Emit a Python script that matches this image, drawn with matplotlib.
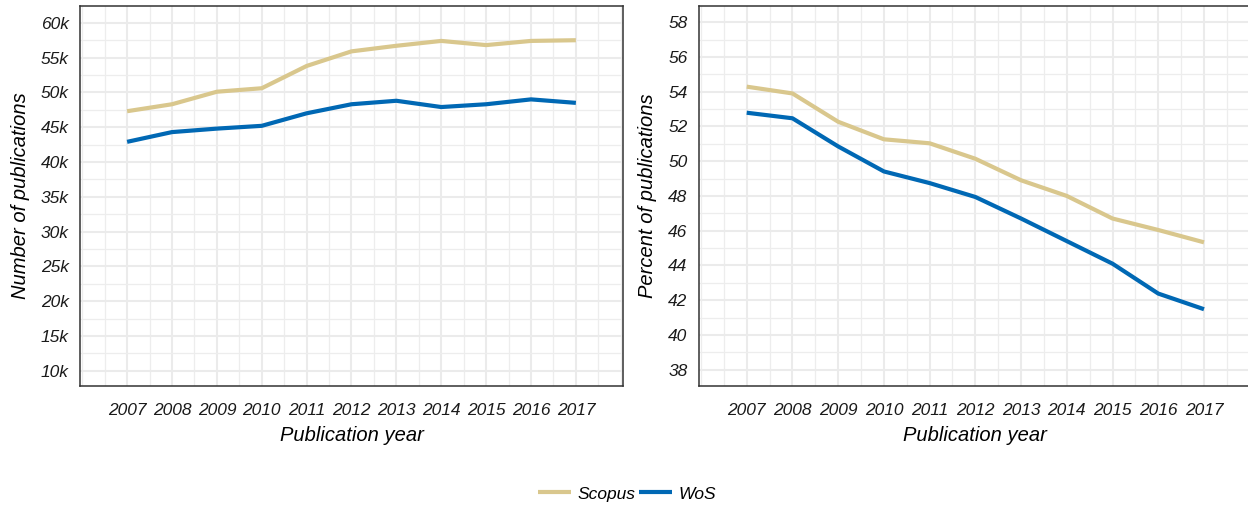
import numpy as np
import matplotlib.pyplot as plt
from matplotlib.ticker import MultipleLocator, FuncFormatter

plt.rcParams['font.family'] = ['Liberation Sans', 'DejaVu Sans']

years = [2007, 2008, 2009, 2010, 2011, 2012, 2013, 2014, 2015, 2016, 2017]
scopus_n = [47300, 48300, 50100, 50600, 53800, 55900, 56700, 57400, 56800, 57400, 57500]
wos_n = [42900, 44300, 44800, 45200, 47000, 48300, 48800, 47900, 48300, 49000, 48500]
scopus_pct = [54.29, 53.9, 52.27, 51.26, 51.03, 50.14, 48.9, 48.0, 46.7, 46.04, 45.33]
wos_pct = [52.79, 52.47, 50.85, 49.41, 48.74, 47.94, 46.7, 45.4, 44.1, 42.38, 41.48]

series = ['Scopus', 'WoS']
colors = {'Scopus': '#D9C78D', 'WoS': '#0068B4'}

W, H = 1248, 505
fig = plt.figure(figsize=(W / 100, H / 100), dpi=100)

ax1 = fig.add_axes([80 / W, 1 - 386 / H, 543 / W, 380.3 / H])
ax2 = fig.add_axes([698.7 / W, 1 - 386 / H, 553.3 / W, 380.3 / H])

ax1.plot(years, scopus_n, color=colors['Scopus'], lw=3.0, label='Scopus', solid_capstyle='butt')
ax1.plot(years, wos_n, color=colors['WoS'], lw=3.0, label='WoS', solid_capstyle='butt')
ax2.plot(years, scopus_pct, color=colors['Scopus'], lw=3.0, solid_capstyle='butt')
ax2.plot(years, wos_pct, color=colors['WoS'], lw=3.0, solid_capstyle='butt')

ax1.set_ylim(7820, 62460)
ax1.yaxis.set_major_locator(MultipleLocator(5000))
ax1.yaxis.set_minor_locator(MultipleLocator(2500))
ax1.yaxis.set_major_formatter(FuncFormatter(lambda v, p: '%dk' % round(v / 1000)))
ax1.set_ylabel('Number of publications', fontsize=14.5, style='italic', labelpad=8)

ax2.set_ylim(37.06, 58.95)
ax2.yaxis.set_major_locator(MultipleLocator(2))
ax2.yaxis.set_minor_locator(MultipleLocator(1))
ax2.set_ylabel('Percent of publications', fontsize=14.5, style='italic', labelpad=8)

for ax in (ax1, ax2):
    ax.set_xlim(2005.95, 2018.05)
    ax.set_xticks(years)
    ax.xaxis.set_minor_locator(MultipleLocator(0.5))
    ax.set_xlabel('Publication year', fontsize=14.5, style='italic', labelpad=6)
    ax.tick_params(which='both', length=0)
    ax.tick_params(axis='y', pad=8)
    ax.tick_params(axis='x', pad=12)
    for lab in ax.get_xticklabels() + ax.get_yticklabels():
        lab.set_fontsize(12.5)
        lab.set_fontstyle('italic')
        lab.set_color('#1a1a1a')
    ax.grid(which='major', color='#EBEBEB', lw=1.5)
    ax.grid(which='minor', color='#EDEDED', lw=0.9)
    ax.set_axisbelow(True)
    for s in ax.spines.values():
        s.set_color('#333333')
        s.set_linewidth(1.1)

# right panel runs off the edge of the picture
ax2.spines['right'].set_visible(False)

handles, labels = ax1.get_legend_handles_labels()
leg = fig.legend(handles, labels, loc='center', bbox_to_anchor=(627 / W, 1 - 494 / H), ncol=2,
                 frameon=False, handlelength=1.9, handletextpad=0.35, columnspacing=0.25,
                 prop={'size': 12.5, 'style': 'italic'})

fig.savefig('out.png', dpi=100)
